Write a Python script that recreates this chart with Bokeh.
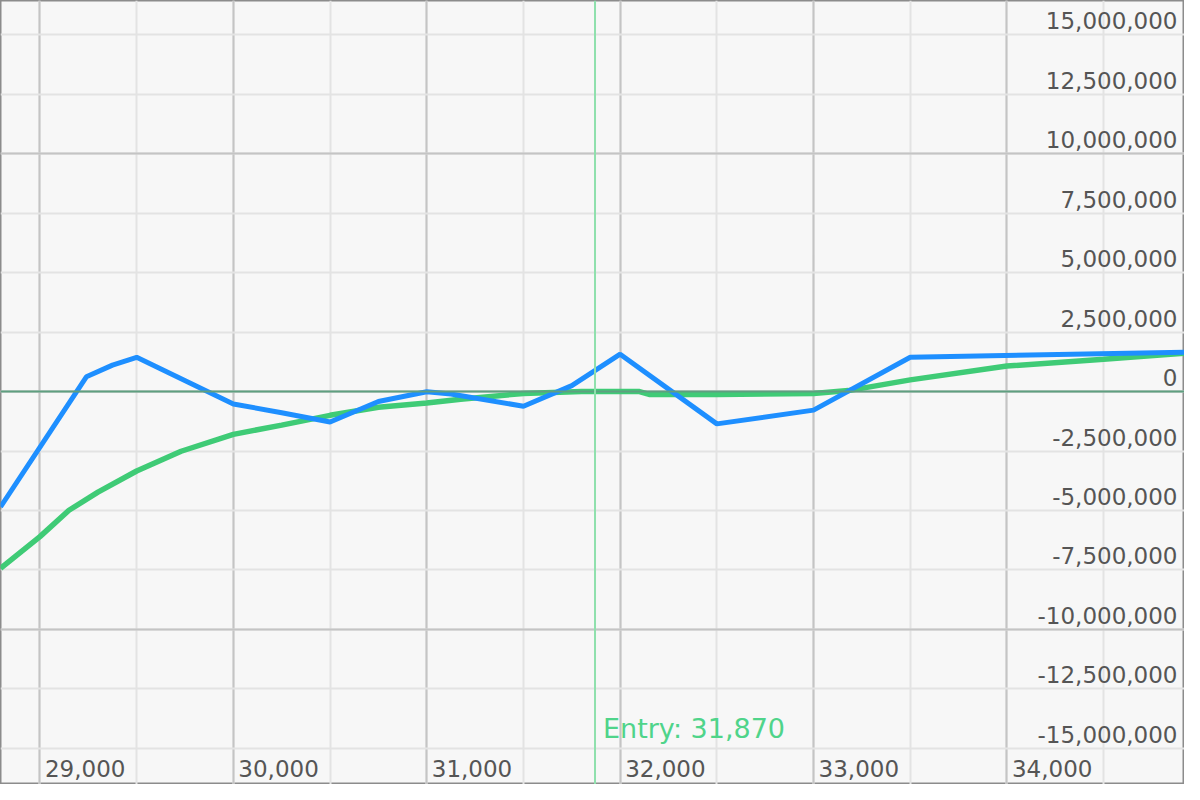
from bokeh.plotting import figure
from bokeh.models import Range1d, SingleIntervalTicker, Span, ColumnDataSource, Grid
from bokeh.core.properties import value
from bokeh.embed import file_html
from bokeh.resources import INLINE

# ---- data ----
blue_x = [28796, 29240, 29375, 29500, 30000, 30250, 30500, 30750, 31000, 31125,
          31500, 31750, 32000, 32500, 33000, 33500, 34918]
blue_y = [-4.85e6, 0.62e6, 1.11e6, 1.44e6, -0.52e6, -0.89e6, -1.28e6, -0.42e6,
          -0.01e6, -0.10e6, -0.62e6, 0.25e6, 1.57e6, -1.36e6, -0.78e6, 1.44e6, 1.65e6]

green_x = [28796, 29000, 29150, 29300, 29500, 29730, 30000, 30250, 30500, 30750,
           31000, 31175, 31500, 31800, 32100, 32150, 32500, 33000, 33180, 33500,
           34000, 34500, 34918]
green_y = [-7.43e6, -6.10e6, -4.99e6, -4.23e6, -3.34e6, -2.51e6, -1.80e6, -1.41e6,
           -1.00e6, -0.66e6, -0.48e6, -0.32e6, -0.08e6, 0.0, 0.0, -0.12e6, -0.12e6,
           -0.08e6, 0.04e6, 0.49e6, 1.07e6, 1.36e6, 1.61e6]

entry_price = 31870
x_ticks = [29000, 30000, 31000, 32000, 33000, 34000]
y_ticks = [15e6, 12.5e6, 10e6, 7.5e6, 5e6, 2.5e6, 0, -2.5e6, -5e6, -7.5e6,
           -10e6, -12.5e6, -15e6]

X_START, X_END = 28796, 34918
Y_START, Y_END = -16.52e6, 16.44e6

FONT = value("DejaVu Sans")

p = figure(width=1184, height=784, output_backend="svg", toolbar_location=None,
           x_range=Range1d(X_START, X_END), y_range=Range1d(Y_START, Y_END),
           x_axis_type=None, y_axis_type=None, min_border=0)
p.background_fill_color = "#f7f7f7"
p.border_fill_color = "#f7f7f7"
p.outline_line_color = "#8c8c8c"
p.outline_line_width = 2

xg = Grid(dimension=0, ticker=SingleIntervalTicker(interval=1000, num_minor_ticks=2),
          grid_line_color="#c4c4c4", grid_line_width=2,
          minor_grid_line_color="#e3e3e3", minor_grid_line_width=2)
yg = Grid(dimension=1, ticker=SingleIntervalTicker(interval=10e6, num_minor_ticks=4),
          grid_line_color="#c4c4c4", grid_line_width=2,
          minor_grid_line_color="#e3e3e3", minor_grid_line_width=2)
p.add_layout(xg)
p.add_layout(yg)

# zero line
p.add_layout(Span(location=0, dimension="width", line_color="#5f9f80", line_width=2))
# entry line
p.add_layout(Span(location=entry_price, dimension="height", line_color="#8fe0ad", line_width=2))

p.line(green_x, green_y, line_color="#3fcb76", line_width=5.5)
p.line(blue_x, blue_y, line_color="#1e8fff", line_width=5)

# y tick labels (inside, right)
ysrc = ColumnDataSource(dict(x=[X_END] * len(y_ticks), y=y_ticks,
                             t=[f"{int(v):,}" for v in y_ticks]))
p.text(x="x", y="y", text="t", source=ysrc, text_align="right",
       text_baseline="alphabetic", x_offset=-7, y_offset=-14,
       text_font=FONT, text_font_size=value("23px"), text_color="#555555")

# x tick labels (inside, bottom)
xsrc = ColumnDataSource(dict(x=x_ticks, y=[Y_START] * len(x_ticks),
                             t=[f"{v:,}" for v in x_ticks]))
p.text(x="x", y="y", text="t", source=xsrc, text_align="left",
       text_baseline="alphabetic", x_offset=5, y_offset=-16,
       text_font=FONT, text_font_size=value("23px"), text_color="#555555")

# entry label
esrc = ColumnDataSource(dict(x=[entry_price], y=[Y_START], t=[f"Entry: {entry_price:,}"]))
p.text(x="x", y="y", text="t", source=esrc, text_align="left",
       text_baseline="alphabetic", x_offset=8, y_offset=-56,
       text_font=FONT, text_font_size=value("27px"), text_color="#4fd48a")

open("out.html", "w").write(file_html(p, INLINE))
